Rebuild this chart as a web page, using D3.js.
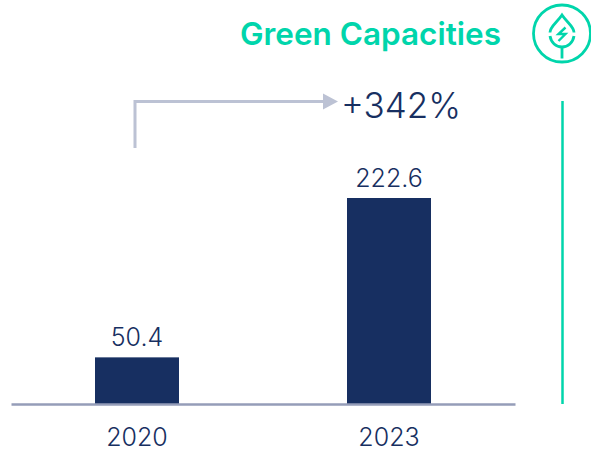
<!DOCTYPE html>
<html>
<head>
<meta charset="utf-8">
<script src="https://cdn.jsdelivr.net/npm/d3@7"></script>
<style>
  html, body { margin: 0; padding: 0; background: #fff; }
  svg { display: block; }
  text { font-family: Inter, Lato, sans-serif; }
</style>
</head>
<body>
<svg id="chart" width="591" height="456"></svg>
<script>
const categories = ["2020", "2023"];
const values = [50.4, 222.6];
const valueLabels = ["50.4", "222.6"];
const chartTitle = "Green Capacities";
const growthLabel = "+342%";

const navy = "#172f61";
const teal = "#00d5ab";
const axisGrey = "#959db8";
const arrowGrey = "#bcc2d4";

const svg = d3.select("#chart");

const x = d3.scaleBand().domain(categories).range([11, 515]).paddingInner(2 / 3).paddingOuter(1 / 3);
const y = d3.scaleLinear().domain([0, 222.6]).range([404, 198]);

// Bars
svg.append("g").selectAll("rect").data(values).join("rect")
  .attr("x", (d, i) => x(categories[i]))
  .attr("y", d => y(d))
  .attr("width", x.bandwidth())
  .attr("height", d => y(0) - y(d))
  .attr("fill", navy);

// Baseline and category labels
const axis = svg.append("g")
  .attr("transform", `translate(0,${y(0)})`)
  .call(d3.axisBottom(x).tickSize(0).tickPadding(24));
axis.select(".domain").attr("stroke", axisGrey).attr("stroke-width", 2.5);
axis.selectAll("text")
  .attr("fill", navy)
  .style("font-family", "Inter, Lato, sans-serif")
  .style("font-size", "25px")
  .style("font-weight", 300);

// Value labels above the bars
svg.append("g").selectAll("text").data(values).join("text")
  .attr("x", (d, i) => x(categories[i]) + x.bandwidth() / 2)
  .attr("y", d => y(d) - 11)
  .attr("text-anchor", "middle")
  .attr("fill", navy)
  .style("font-size", "25px")
  .style("font-weight", 300)
  .text((d, i) => valueLabels[i]);

// Growth arrow from the first bar towards the last
svg.append("path")
  .attr("d", "M135 148V101.500H327")
  .attr("fill", "none")
  .attr("stroke", arrowGrey)
  .attr("stroke-width", 3);
svg.append("path")
  .attr("d", "M323 93.500L338 101.500L323 109.500Z")
  .attr("fill", arrowGrey);
svg.append("text")
  .attr("x", 341).attr("y", 118)
  .attr("fill", navy)
  .style("font-size", "35px")
  .style("font-weight", 300)
  .text(growthLabel);

// Title
svg.append("text")
  .attr("x", 501).attr("y", 45)
  .attr("text-anchor", "end")
  .attr("fill", teal)
  .style("font-size", "31.500px")
  .style("font-weight", 600)
  .text(chartTitle);

// Side rule
svg.append("line")
  .attr("x1", 562.500).attr("x2", 562.500)
  .attr("y1", 101).attr("y2", 404)
  .attr("stroke", teal).attr("stroke-width", 2.5);

// Leaf and bolt icon
const icon = svg.append("g")
  .attr("transform", "translate(562,33.500)")
  .attr("fill", "none")
  .attr("stroke", teal)
  .attr("stroke-width", 2.8);
icon.append("circle").attr("r", 28.500);
icon.append("path").attr("d", "M-12 -1C-12 -7 -5 -11 0 -18.500C5 -11 12 -7 12 -1");
icon.append("path").attr("d", "M-12 2.500C-11 9 -6 13.500 0 13.500C6 13.500 11 9 12 2.500");
icon.append("path").attr("d", "M0 13.500V25");
icon.append("path").attr("d", "M3.500 -6L-3.500 0.500H3.500L-3.500 7.500").attr("stroke-width", 2.4);
</script>
</body>
</html>
